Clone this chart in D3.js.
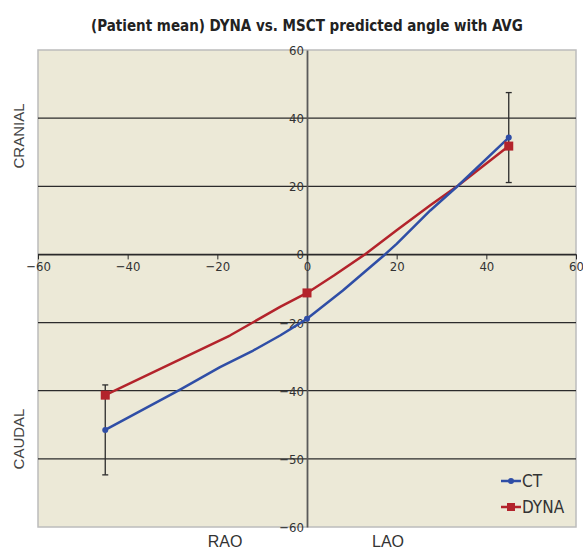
<!DOCTYPE html>
<html>
<head>
<meta charset="utf-8">
<script src="https://cdn.jsdelivr.net/npm/d3@7"></script>
<style>
  body { margin: 0; background: #fff; }
  svg { display: block; }
  .tick text { font-family: "Liberation Sans Narrow", "DejaVu Sans Condensed", sans-serif; font-size: 13px; fill: #333; }
</style>
</head>
<body>
<svg id="chart" width="583" height="549"></svg>
<script>
// marker points (mean angle per projection)
const markerAngles = [-45, 0, 45];
const ctMean = [-51.5, -18.9, 34.3];
const dynaMean = [-41.3, -11.3, 31.8];
const ctError = [13.2, 0, 13.2];

// traced line vertices (no markers)
const ctLineX = [-45, -28.3, -19.4, -12, -6, 0, 8, 17.4, 20, 27.5, 33.8, 45];
const ctLineY = [-51.5, -39.7, -33.1, -28.2, -23.8, -18.9, -10.6, 0, 3.1, 12.9, 20.3, 34.3];
const dynaLineX = [-45, -28.3, -17.2, -12, -6, 0, 6, 12.9, 20, 27.5, 33.8, 45];
const dynaLineY = [-41.3, -30.8, -23.8, -19.9, -15.4, -11.3, -6.2, 0, 7.1, 14.4, 20.3, 31.8];

const xTicks = [-60, -40, -20, 0, 20, 40, 60];
const yTicks = [-80, -60, -40, -20, 0, 20, 40, 60];
const yTickLabels = ["\u221260", "\u221250", "\u221240", "\u221220", "0", "20", "40", "60"];

const seriesNames = ["CT", "DYNA"];
const seriesColors = ["#2f4ea6", "#b3232b"];

const svg = d3.select("#chart");
const plotL = 38, plotR = 576, plotT = 50, plotB = 527;

const x = d3.scaleLinear().domain([-60, 60]).range([plotL, plotR]);
const y = d3.scaleLinear().domain([-80, 60]).range([plotB, plotT]);

// title
svg.append("text")
    .attr("x", 307).attr("y", 31)
    .attr("text-anchor", "middle")
    .attr("font-family", "'Liberation Sans Narrow', 'DejaVu Sans Condensed', sans-serif")
    .attr("font-weight", "bold")
    .attr("font-size", 15)
    .attr("fill", "#222")
    .text("(Patient mean) DYNA vs. MSCT predicted angle with AVG");

// plot background
svg.append("rect")
    .attr("x", plotL).attr("y", plotT)
    .attr("width", plotR - plotL).attr("height", plotB - plotT)
    .attr("fill", "#ece9d7")
    .attr("stroke", "#bcbcbc")
    .attr("stroke-width", 1.5);

// horizontal gridlines
svg.append("g")
    .selectAll("line")
    .data(yTicks.filter(v => v > -80 && v < 60))
    .join("line")
    .attr("x1", plotL).attr("x2", plotR)
    .attr("y1", d => y(d)).attr("y2", d => y(d))
    .attr("stroke", "#2b2b2b")
    .attr("stroke-width", 1.3);

// y axis on x = 0
const yAxis = svg.append("g")
    .attr("transform", "translate(" + x(0) + ",0)")
    .call(d3.axisLeft(y).tickValues(yTicks).tickSize(0).tickPadding(3)
        .tickFormat((d, i) => yTickLabels[i]));
yAxis.select(".domain").attr("stroke", "#5a5a5a").attr("stroke-width", 1.8);
yAxis.selectAll(".tick text").attr("dy", "0.35em");

// x axis on y = 0
const xAxis = svg.append("g")
    .attr("transform", "translate(0," + y(0) + ")")
    .call(d3.axisBottom(x).tickValues(xTicks).tickSize(5).tickSizeOuter(0).tickPadding(2));
xAxis.select(".domain").attr("stroke", "#2b2b2b").attr("stroke-width", 1.3);
xAxis.selectAll(".tick line").attr("stroke", "#2b2b2b");

// axis labels
const labelFont = "'Liberation Sans', Arial, sans-serif";
[["CRANIAL", 136], ["CAUDAL", 439]].forEach(([t, cy]) => {
    svg.append("text")
        .attr("transform", "translate(24," + cy + ") rotate(-90)")
        .attr("text-anchor", "middle")
        .attr("font-family", labelFont)
        .attr("font-size", 15)
        .attr("fill", "#444")
        .text(t);
});
[["RAO", 225], ["LAO", 388]].forEach(([t, cx]) => {
    svg.append("text")
        .attr("x", cx).attr("y", 547)
        .attr("text-anchor", "middle")
        .attr("font-family", labelFont)
        .attr("font-size", 16)
        .attr("fill", "#333")
        .text(t);
});

// lines
const line = d3.line().x(d => x(d[0])).y(d => y(d[1]));
const ctPts = ctLineX.map((v, i) => [v, ctLineY[i]]);
const dynaPts = dynaLineX.map((v, i) => [v, dynaLineY[i]]);

svg.append("path").datum(dynaPts)
    .attr("d", line).attr("fill", "none")
    .attr("stroke", seriesColors[1]).attr("stroke-width", 2.5)
    .attr("stroke-linejoin", "round");
svg.append("path").datum(ctPts)
    .attr("d", line).attr("fill", "none")
    .attr("stroke", seriesColors[0]).attr("stroke-width", 2.5)
    .attr("stroke-linejoin", "round");

// error bars on CT
const errData = markerAngles.map((a, i) => ({ a: a, m: ctMean[i], e: ctError[i] })).filter(d => d.e > 0);
const eb = svg.append("g").attr("stroke", "#2b2b2b").attr("stroke-width", 1.3);
eb.selectAll(".v").data(errData).join("line")
    .attr("x1", d => x(d.a)).attr("x2", d => x(d.a))
    .attr("y1", d => y(d.m + d.e)).attr("y2", d => y(d.m - d.e));
eb.selectAll(".t").data(errData.flatMap(d => [d.m + d.e, d.m - d.e].map(v => ({ a: d.a, v: v })))).join("line")
    .attr("x1", d => x(d.a) - 3).attr("x2", d => x(d.a) + 3)
    .attr("y1", d => y(d.v)).attr("y2", d => y(d.v));

// markers
svg.append("g").selectAll("rect")
    .data(markerAngles.map((a, i) => [a, dynaMean[i]]))
    .join("rect")
    .attr("x", d => x(d[0]) - 4.5).attr("y", d => y(d[1]) - 4.5)
    .attr("width", 9).attr("height", 9)
    .attr("fill", seriesColors[1]);
svg.append("g").selectAll("circle")
    .data(markerAngles.map((a, i) => [a, ctMean[i]]))
    .join("circle")
    .attr("cx", d => x(d[0])).attr("cy", d => y(d[1]))
    .attr("r", 3)
    .attr("fill", seriesColors[0]);

// legend
const legend = svg.append("g").attr("transform", "translate(501,481)");
seriesNames.forEach((name, i) => {
    const g = legend.append("g").attr("transform", "translate(0," + i * 26 + ")");
    g.append("line").attr("x1", 0).attr("x2", 20)
        .attr("stroke", seriesColors[i]).attr("stroke-width", 2.5);
    if (i === 0) {
        g.append("circle").attr("cx", 10).attr("r", 3).attr("fill", seriesColors[i]);
    } else {
        g.append("rect").attr("x", 6).attr("y", -4).attr("width", 8).attr("height", 8).attr("fill", seriesColors[i]);
    }
    g.append("text").attr("x", 21).attr("y", 6)
        .attr("font-family", "'Liberation Sans Narrow', 'DejaVu Sans Condensed', sans-serif")
        .attr("font-size", 17)
        .attr("fill", "#333")
        .text(name);
});
</script>
</body>
</html>
